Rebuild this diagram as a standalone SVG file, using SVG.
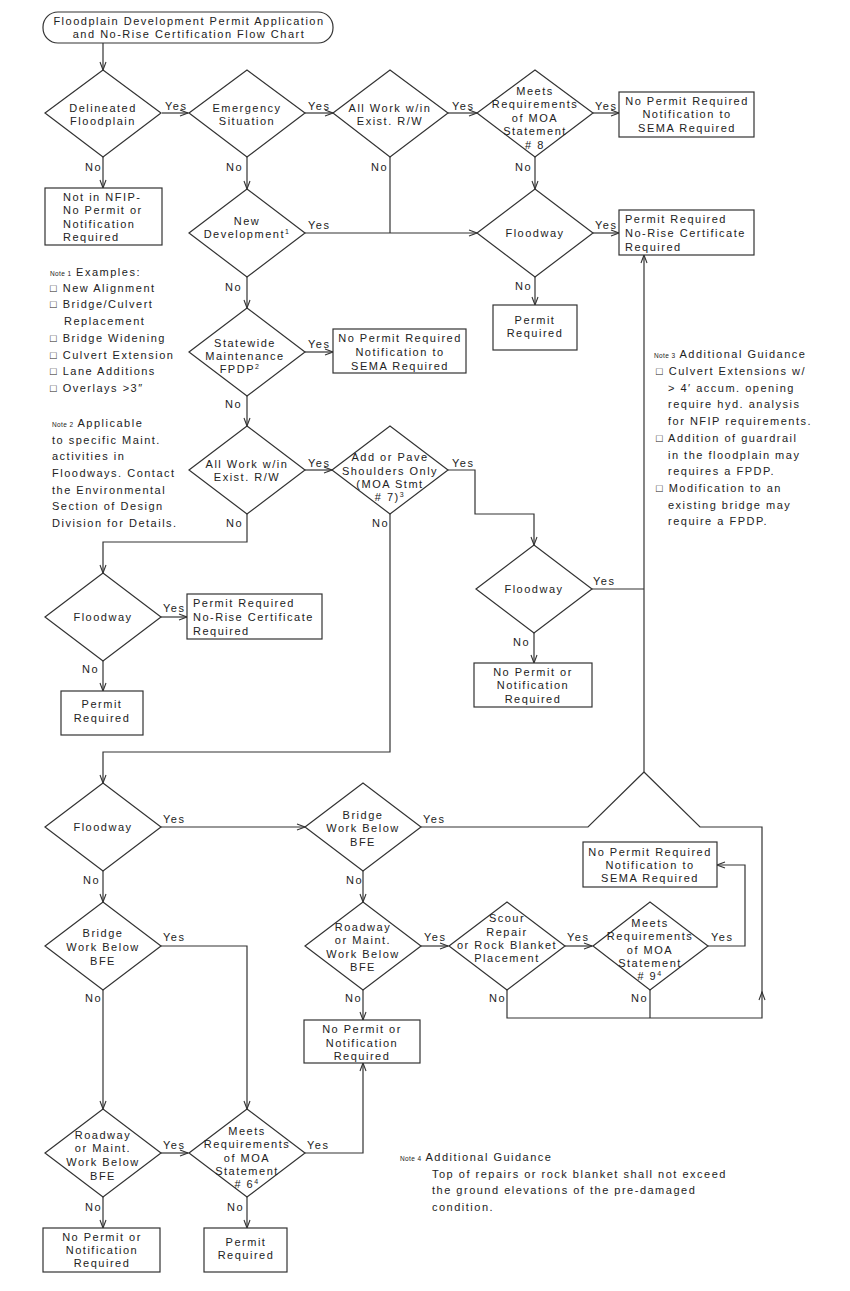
<svg xmlns="http://www.w3.org/2000/svg" width="850" height="1291" viewBox="0 0 850 1291">
<defs>
<marker id="a" markerWidth="10" markerHeight="8" refX="9" refY="4" orient="auto" markerUnits="userSpaceOnUse"><path d="M1,1 L9,4 L1,7" fill="none" stroke="#333" stroke-width="1.1"/></marker>
<style>
rect,polygon{fill:#fff;stroke:#333;stroke-width:1.2}
rect.bg{stroke:none}
text{font-family:"Liberation Sans","DejaVu Sans",Arial,sans-serif;font-size:11px;letter-spacing:1.5px;fill:#222}
.c{text-anchor:middle}
.s{font-size:6.5px;letter-spacing:0.4px}
.e path{fill:none;stroke:#333;stroke-width:1.2}
.e .m{marker-end:url(#a)}
</style>
</defs>
<rect class="bg" width="850" height="1291"/>

<g class="e">
<path class="m" d="M103,43 V70"/>
<path class="m" d="M162,113 H188"/>
<path class="m" d="M305,113 H333"/>
<path class="m" d="M448,113 H477"/>
<path class="m" d="M593,113 H619"/>
<path class="m" d="M103,157 V188"/>
<path class="m" d="M247,157 V189"/>
<path class="m" d="M535,157 V189"/>
<path d="M390,157 V233"/>
<path class="m" d="M305,233 H477"/>
<path class="m" d="M593,233 H619"/>
<path class="m" d="M535,277 V305"/>
<path class="m" d="M247,277 V308"/>
<path class="m" d="M305,352 H333"/>
<path class="m" d="M247,396 V426"/>
<path class="m" d="M305,470 H332"/>
<path class="m" d="M448,470 H475 V514 H534 V545"/>
<path d="M592,589 H644"/>
<path class="m" d="M534,633 V663"/>
<path class="m" d="M247,514 V542 H103 V573"/>
<path class="m" d="M160,617 H187"/>
<path class="m" d="M103,661 V691"/>
<path class="m" d="M390,514 V752 H103 V783"/>
<path class="m" d="M160,827 H305"/>
<path class="m" d="M103,871 V902"/>
<path class="m" d="M160,946 H247 V1109"/>
<path class="m" d="M103,990 V1109"/>
<path class="m" d="M160,1153 H188"/>
<path class="m" d="M103,1197 V1228"/>
<path class="m" d="M305,1153 H363 V1063"/>
<path class="m" d="M247,1197 V1228"/>
<path class="m" d="M363,871 V902"/>
<path class="m" d="M363,990 V1020"/>
<path class="m" d="M421,946 H448"/>
<path class="m" d="M565,946 H592"/>
<path class="m" d="M708,946 H745 V865 H717"/>
<path d="M650,990 V1018"/>
<path class="m" d="M507,990 V1018 H762 V992"/>
<path d="M762,994 V827 H700 L644,772"/>
<path d="M421,827 H588 L644,772"/>
<path class="m" d="M644,772 V255"/>
</g>

<g id="title"><rect x="43" y="12" width="290" height="31" rx="15"/><text class="c" x="189" y="25">Floodplain Development Permit Application</text><text class="c" x="189" y="38">and No-Rise Certification Flow Chart</text></g>

<g id="d1"><polygon points="45,113 103,70 161,113 103,157"/><text class="c" x="103" y="112">Delineated</text><text class="c" x="103" y="125">Floodplain</text></g>
<g id="d2"><polygon points="189,113 247,70 305,113 247,157"/><text class="c" x="247" y="112">Emergency</text><text class="c" x="247" y="125">Situation</text></g>
<g id="d3"><polygon points="333,113 390,70 448,113 390,157"/><text class="c" x="390" y="112">All Work w/in</text><text class="c" x="390" y="125">Exist. R/W</text></g>
<g id="d4"><polygon points="477,113 535,70 593,113 535,157"/><text class="c" x="535" y="95">Meets</text><text class="c" x="535" y="108">Requirements</text><text class="c" x="535" y="122">of MOA</text><text class="c" x="535" y="135">Statement</text><text class="c" x="535" y="149"># 8</text></g>
<g id="b1"><rect x="619" y="92" width="135" height="45"/><text class="c" x="687" y="105">No Permit Required</text><text class="c" x="687" y="118">Notification to</text><text class="c" x="687" y="132">SEMA Required</text></g>
<g id="b2"><rect x="45" y="188" width="117" height="57"/><text x="63" y="201">Not in NFIP-</text><text x="63" y="214">No Permit or</text><text x="63" y="228">Notification</text><text x="63" y="241">Required</text></g>
<g id="d5"><polygon points="189,233 247,189 305,233 247,277"/><text class="c" x="247" y="225">New</text><text class="c" x="247" y="238">Development<tspan dy="-4" font-size="7">1</tspan></text></g>
<g id="d6"><polygon points="477,233 535,189 593,233 535,277"/><text class="c" x="535" y="237">Floodway</text></g>
<g id="b3"><rect x="619" y="210" width="135" height="45"/><text x="625" y="223">Permit Required</text><text x="625" y="237">No-Rise Certificate</text><text x="625" y="251">Required</text></g>
<g id="b4"><rect x="493" y="305" width="84" height="45"/><text class="c" x="535" y="324">Permit</text><text class="c" x="535" y="337">Required</text></g>
<g id="d7"><polygon points="189,352 247,308 305,352 247,396"/><text class="c" x="245" y="347">Statewide</text><text class="c" x="245" y="360">Maintenance</text><text class="c" x="240" y="373">FPDP<tspan dy="-4" font-size="7">2</tspan></text></g>
<g id="b5"><rect x="333" y="329" width="133" height="44"/><text class="c" x="400" y="342">No Permit Required</text><text class="c" x="400" y="356">Notification to</text><text class="c" x="400" y="370">SEMA Required</text></g>
<g id="d8"><polygon points="189,470 247,426 305,470 247,514"/><text class="c" x="247" y="468">All Work w/in</text><text class="c" x="247" y="481">Exist. R/W</text></g>
<g id="d9"><polygon points="332,470 390,426 448,470 390,514"/><text class="c" x="390" y="461">Add or Pave</text><text class="c" x="390" y="475">Shoulders Only</text><text class="c" x="390" y="488">(MOA Stmt</text><text class="c" x="390" y="501"># 7)<tspan dy="-4" font-size="7">3</tspan></text></g>
<g id="d10"><polygon points="476,589 534,545 592,589 534,633"/><text class="c" x="534" y="593">Floodway</text></g>
<g id="b6"><rect x="474" y="663" width="118" height="44"/><text class="c" x="533" y="676">No Permit or</text><text class="c" x="533" y="689">Notification</text><text class="c" x="533" y="703">Required</text></g>
<g id="d11"><polygon points="45,617 103,573 161,617 103,661"/><text class="c" x="103" y="621">Floodway</text></g>
<g id="b7"><rect x="187" y="594" width="135" height="45"/><text x="193" y="607">Permit Required</text><text x="193" y="621">No-Rise Certificate</text><text x="193" y="635">Required</text></g>
<g id="b8"><rect x="61" y="691" width="82" height="44"/><text class="c" x="102" y="708">Permit</text><text class="c" x="102" y="722">Required</text></g>
<g id="d12"><polygon points="45,827 103,783 161,827 103,871"/><text class="c" x="103" y="831">Floodway</text></g>
<g id="d13"><polygon points="305,827 363,783 421,827 363,871"/><text class="c" x="363" y="819">Bridge</text><text class="c" x="363" y="832">Work Below</text><text class="c" x="363" y="846">BFE</text></g>
<g id="b9"><rect x="583" y="842" width="134" height="45"/><text class="c" x="650" y="856">No Permit Required</text><text class="c" x="650" y="869">Notification to</text><text class="c" x="650" y="882">SEMA Required</text></g>
<g id="d14"><polygon points="45,946 103,902 161,946 103,990"/><text class="c" x="103" y="937">Bridge</text><text class="c" x="103" y="951">Work Below</text><text class="c" x="103" y="965">BFE</text></g>
<g id="d15"><polygon points="305,946 363,902 421,946 363,990"/><text class="c" x="363" y="931">Roadway</text><text class="c" x="363" y="944">or Maint.</text><text class="c" x="363" y="958">Work Below</text><text class="c" x="363" y="971">BFE</text></g>
<g id="d16"><polygon points="449,946 507,902 565,946 507,990"/><text class="c" x="507" y="922">Scour</text><text class="c" x="507" y="936">Repair</text><text class="c" x="507" y="949">or Rock Blanket</text><text class="c" x="507" y="962">Placement</text></g>
<g id="d17"><polygon points="593,946 650,902 708,946 650,990"/><text class="c" x="650" y="927">Meets</text><text class="c" x="650" y="940">Requirements</text><text class="c" x="650" y="954">of MOA</text><text class="c" x="650" y="967">Statement</text><text class="c" x="650" y="980"># 9<tspan dy="-4" font-size="7">4</tspan></text></g>
<g id="b10"><rect x="304" y="1020" width="116" height="43"/><text class="c" x="362" y="1033">No Permit or</text><text class="c" x="362" y="1047">Notification</text><text class="c" x="362" y="1060">Required</text></g>
<g id="d18"><polygon points="45,1153 103,1109 161,1153 103,1197"/><text class="c" x="103" y="1139">Roadway</text><text class="c" x="103" y="1152">or Maint.</text><text class="c" x="103" y="1166">Work Below</text><text class="c" x="103" y="1180">BFE</text></g>
<g id="d19"><polygon points="189,1153 247,1109 305,1153 247,1197"/><text class="c" x="247" y="1135">Meets</text><text class="c" x="247" y="1148">Requirements</text><text class="c" x="247" y="1162">of MOA</text><text class="c" x="247" y="1175">Statement</text><text class="c" x="247" y="1188"># 6<tspan dy="-4" font-size="7">4</tspan></text></g>
<g id="b11"><rect x="43" y="1228" width="117" height="44"/><text class="c" x="102" y="1241">No Permit or</text><text class="c" x="102" y="1254">Notification</text><text class="c" x="102" y="1267">Required</text></g>
<g id="b12"><rect x="204" y="1228" width="83" height="44"/><text class="c" x="246" y="1246">Permit</text><text class="c" x="246" y="1259">Required</text></g>

<g id="labels">
<text x="165" y="110">Yes</text><text x="308" y="110">Yes</text><text x="452" y="110">Yes</text><text x="595" y="110">Yes</text>
<text x="85" y="171">No</text><text x="226" y="171">No</text><text x="371" y="171">No</text><text x="515" y="171">No</text>
<text x="308" y="229">Yes</text><text x="595" y="229">Yes</text>
<text x="225" y="291">No</text><text x="515" y="290">No</text>
<text x="308" y="348">Yes</text><text x="225" y="408">No</text>
<text x="308" y="467">Yes</text><text x="452" y="467">Yes</text>
<text x="226" y="527">No</text><text x="372" y="527">No</text>
<text x="593" y="585">Yes</text><text x="513" y="646">No</text>
<text x="163" y="612">Yes</text><text x="82" y="673">No</text>
<text x="163" y="823">Yes</text><text x="83" y="884">No</text>
<text x="423" y="823">Yes</text><text x="346" y="884">No</text>
<text x="163" y="941">Yes</text><text x="85" y="1002">No</text>
<text x="424" y="941">Yes</text><text x="345" y="1002">No</text>
<text x="567" y="941">Yes</text><text x="489" y="1002">No</text>
<text x="711" y="941">Yes</text><text x="631" y="1002">No</text>
<text x="163" y="1149">Yes</text><text x="85" y="1211">No</text>
<text x="307" y="1149">Yes</text><text x="227" y="1211">No</text>
</g>

<g id="note1">
<text x="50" y="276"><tspan class="s">Note 1</tspan> Examples:</text>
<text x="50" y="292">□ New Alignment</text>
<text x="50" y="308">□ Bridge/Culvert</text>
<text x="64" y="325">Replacement</text>
<text x="50" y="342">□ Bridge Widening</text>
<text x="50" y="359">□ Culvert Extension</text>
<text x="50" y="375">□ Lane Additions</text>
<text x="50" y="392">□ Overlays &gt;3″</text>
</g>
<g id="note2">
<text x="52" y="427"><tspan class="s">Note 2</tspan> Applicable</text>
<text x="52" y="444">to specific Maint.</text>
<text x="52" y="460">activities in</text>
<text x="52" y="477">Floodways. Contact</text>
<text x="52" y="494">the Environmental</text>
<text x="52" y="510">Section of Design</text>
<text x="52" y="527">Division for Details.</text>
</g>
<g id="note3">
<text x="654" y="358"><tspan class="s">Note 3</tspan> Additional Guidance</text>
<text x="656" y="375">□ Culvert Extensions w/</text>
<text x="668" y="392">&gt; 4′ accum. opening</text>
<text x="668" y="408">require hyd. analysis</text>
<text x="668" y="425">for NFIP requirements.</text>
<text x="656" y="442">□ Addition of guardrail</text>
<text x="668" y="459">in the floodplain may</text>
<text x="668" y="475">requires a FPDP.</text>
<text x="656" y="492">□ Modification to an</text>
<text x="668" y="509">existing bridge may</text>
<text x="668" y="525">require a FPDP.</text>
</g>
<g id="note4">
<text x="400" y="1161"><tspan class="s">Note 4</tspan> Additional Guidance</text>
<text x="432" y="1178">Top of repairs or rock blanket shall not exceed</text>
<text x="432" y="1194">the ground elevations of the pre-damaged</text>
<text x="432" y="1211">condition.</text>
</g>
</svg>
